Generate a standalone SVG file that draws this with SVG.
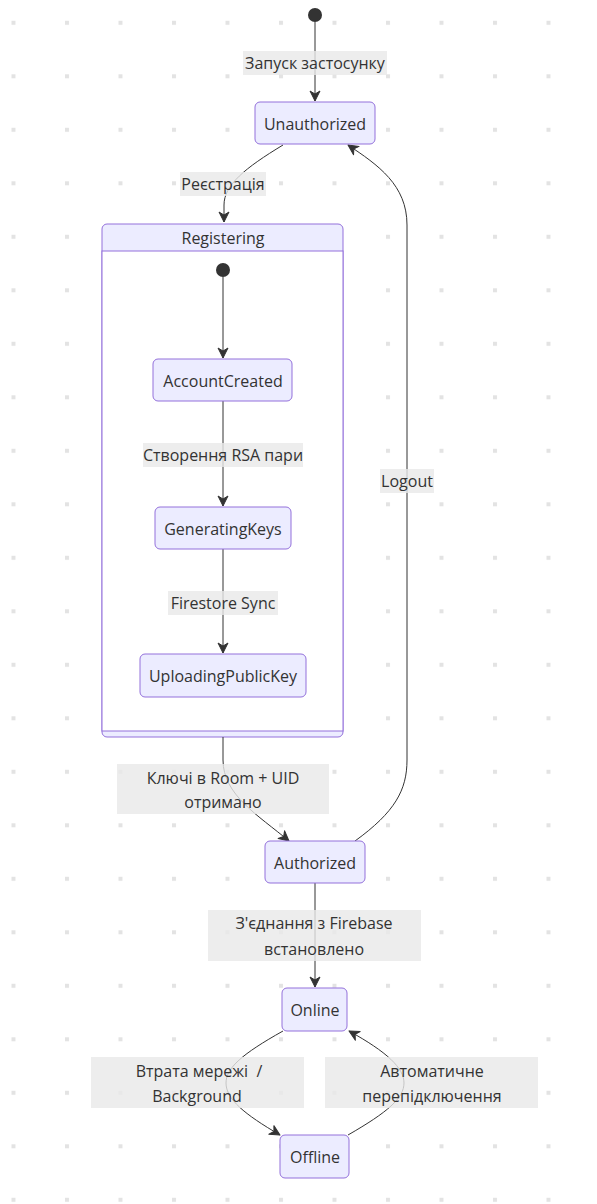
<svg xmlns="http://www.w3.org/2000/svg" width="597" height="1204" viewBox="0 0 597 1204">
  <defs>
    <pattern id="grid" x="11.5" y="20.8" width="53.5" height="53.5" patternUnits="userSpaceOnUse">
      <rect x="0" y="0" width="4" height="4" fill="#e3e3e3"/>
    </pattern>
    <marker id="arrow" viewBox="0 0 12 12" refX="11" refY="6" markerWidth="12" markerHeight="12" markerUnits="userSpaceOnUse" orient="auto">
      <path d="M1,1 L11,6 L1,11 L4,6 z" fill="#333" stroke="#333" stroke-width="1" stroke-linejoin="round"/>
    </marker>
    <style>
      text { font-family: "Open Sans", "Noto Sans", "DejaVu Sans", sans-serif; font-size: 16px; fill: #333; text-anchor: middle; dominant-baseline: central; }
      .state { fill: #ECECFF; stroke: #9370DB; stroke-width: 1; }
      .start { fill: #333; }
      .edge { fill: none; stroke: #333; stroke-width: 1; marker-end: url(#arrow); }
      .lbl { fill: rgba(232,232,232,0.8); }
    </style>
  </defs>

  <rect width="597" height="1204" fill="#ffffff"/>
  <rect width="597" height="1204" fill="url(#grid)"/>

  <!-- composite state: Registering -->
  <g id="Registering">
    <rect x="102" y="224" width="241" height="513" rx="5" class="state"/>
    <rect x="102" y="251" width="241" height="480" fill="#ffffff" stroke="#9370DB" stroke-width="1"/>
    <text x="223" y="238">Registering</text>
  </g>

  <!-- transitions -->
  <g id="edges">
    <path class="edge" d="M315,22 L315,101"/>
    <path class="edge" d="M283,145 C245,168 224,185 224,205 L224,222"/>
    <path class="edge" d="M223,277 L223,358"/>
    <path class="edge" d="M223,401 L223,506"/>
    <path class="edge" d="M223,549 L223,653"/>
    <path class="edge" d="M223,737 L223,760 C223,795 258,815 289,841"/>
    <path class="edge" d="M355,841 C395,812 407,790 407,760 L407,225 C407,185 378,165 348,145"/>
    <path class="edge" d="M315,883 L315,987"/>
    <path class="edge" d="M283,1031 C242,1054 226,1068 226,1083 C226,1099 244,1114 280,1135"/>
    <path class="edge" d="M348,1135 C388,1112 404,1098 404,1083 C404,1068 387,1052 349,1031"/>
  </g>

  <!-- transition labels -->
  <g id="labels">
    <rect class="lbl" x="243" y="51" width="144" height="24"/>
    <text x="315" y="63">Запуск застосунку</text>
    <rect class="lbl" x="180" y="172" width="86" height="24"/>
    <text x="223" y="184">Реєстрація</text>
    <rect class="lbl" x="143" y="443" width="160" height="24"/>
    <text x="223" y="455">Створення RSA пари</text>
    <rect class="lbl" x="168" y="591" width="110" height="24"/>
    <text x="223" y="603">Firestore Sync</text>
    <rect class="lbl" x="117" y="764" width="212" height="50"/>
    <text x="223" y="778">Ключі в Room + UID</text>
    <text x="223" y="802">отримано</text>
    <rect class="lbl" x="380" y="469" width="54" height="24"/>
    <text x="407" y="481">Logout</text>
    <rect class="lbl" x="208" y="910" width="213" height="51"/>
    <text x="314" y="923">З'єднання з Firebase</text>
    <text x="314" y="949">встановлено</text>
    <rect class="lbl" x="91" y="1057" width="213" height="51"/>
    <text x="199" y="1071">Втрата мережі&#160;&#160;/</text>
    <text x="197" y="1096">Background</text>
    <rect class="lbl" x="325" y="1057" width="213" height="51"/>
    <text x="432" y="1071">Автоматичне</text>
    <text x="432" y="1096">перепідключення</text>
  </g>

  <!-- states -->
  <g id="start">
    <circle cx="315" cy="15" r="7" class="start"/>
  </g>
  <g id="Unauthorized">
    <rect x="255" y="102" width="120" height="42" rx="5" class="state"/>
    <text x="315" y="124">Unauthorized</text>
  </g>
  <g id="RegisteringStart">
    <circle cx="223" cy="270" r="7" class="start"/>
  </g>
  <g id="AccountCreated">
    <rect x="153" y="359" width="139" height="42" rx="5" class="state"/>
    <text x="223" y="381">AccountCreated</text>
  </g>
  <g id="GeneratingKeys">
    <rect x="155" y="507" width="136" height="42" rx="5" class="state"/>
    <text x="223" y="529">GeneratingKeys</text>
  </g>
  <g id="UploadingPublicKey">
    <rect x="140" y="654" width="166" height="43" rx="5" class="state"/>
    <text x="223" y="676">UploadingPublicKey</text>
  </g>
  <g id="Authorized">
    <rect x="265" y="841" width="100" height="42" rx="5" class="state"/>
    <text x="315" y="863">Authorized</text>
  </g>
  <g id="Online">
    <rect x="282" y="988" width="65" height="43" rx="5" class="state"/>
    <text x="315" y="1010">Online</text>
  </g>
  <g id="Offline">
    <rect x="280" y="1135" width="69" height="43" rx="5" class="state"/>
    <text x="315" y="1157">Offline</text>
  </g>
</svg>
